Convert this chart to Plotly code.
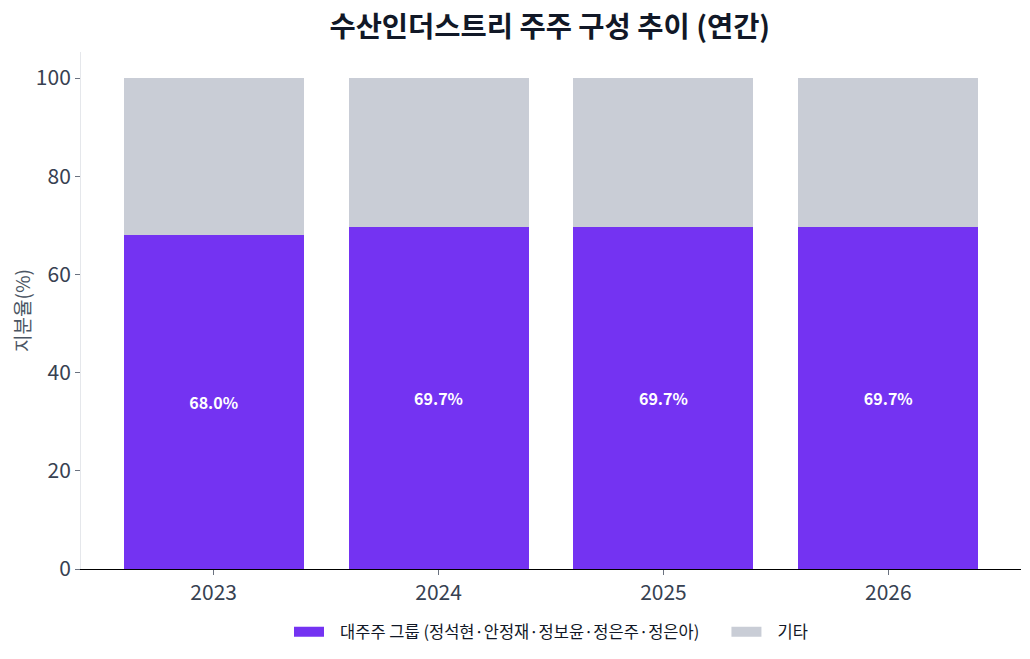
import plotly.graph_objects as go

years = ["2023", "2024", "2025", "2026"]
major = [68.0, 69.7, 69.7, 69.7]
others = [32.0, 30.3, 30.3, 30.3]
major_name = "대주주 그룹 (정석현·안정재·정보윤·정은주·정은아)"
others_name = "기타"
major_labels = [f"<b>{v:.1f}%</b>" for v in major]

FONT = "Noto Sans CJK KR"
PURPLE = "#7433F2"
GRAY = "#C9CDD6"
NBSP = "\u00a0"

fig = go.Figure()
fig.add_trace(go.Bar(
    x=years, y=major, name=major_name, showlegend=False,
    marker=dict(color=PURPLE, line=dict(width=0)),
    text=major_labels, textposition="inside", insidetextanchor="middle",
    textfont=dict(family=FONT, size=16, color="white"),
))
fig.add_trace(go.Bar(
    x=years, y=others, name=others_name, showlegend=False,
    marker=dict(color=GRAY, line=dict(width=0)),
    textposition="none",
))

# legend entries drawn as wide rectangles
legend_names = [NBSP * 3 + major_name + NBSP * 6, NBSP * 3 + others_name]
for name, color in zip(legend_names, [PURPLE, GRAY]):
    fig.add_trace(go.Scatter(
        x=[None], y=[None], mode="lines", name=name,
        line=dict(color=color, width=12),
        hoverinfo="skip",
    ))

fig.update_layout(
    barmode="stack",
    bargap=0.2,
    width=1030, height=659,
    margin=dict(l=73, r=17, t=44, b=98),
    paper_bgcolor="white", plot_bgcolor="white",
    font=dict(family=FONT, color="#374151"),
    title=dict(
        text="<b>수산인더스트리 주주 구성 추이 (연간)</b>",
        x=0.526, xanchor="center", y=0.971, yanchor="middle",
        font=dict(family=FONT, size=28.5, color="#111827"),
    ),
    legend=dict(
        orientation="h", x=0.5, xanchor="center", y=-0.122, yanchor="middle",
        font=dict(family=FONT, size=16.5, color="#111827"),
        traceorder="normal",
    ),
    uniformtext=dict(mode="show", minsize=10),
)
fig.update_xaxes(
    range=[-0.59, 3.59],
    showline=True, linecolor="black", linewidth=1,
    ticks="outside", ticklen=5, tickcolor="#6b7280",
    tickfont=dict(family=FONT, size=21, color="#374151"),
    showgrid=False,
)
fig.update_yaxes(
    range=[0, 105.3],
    automargin=False,
    showline=True, linecolor="#e5e7eb", linewidth=1,
    ticks="outside", ticklen=5, tickcolor="#6b7280",
    tickvals=[0, 20, 40, 60, 80, 100],
    tickfont=dict(family=FONT, size=21, color="#374151"),
    showgrid=False, zeroline=False,
    title=dict(text="지분율(%)", font=dict(family=FONT, size=19, color="#4b5563"), standoff=1),
)

fig.write_html("out.html")
